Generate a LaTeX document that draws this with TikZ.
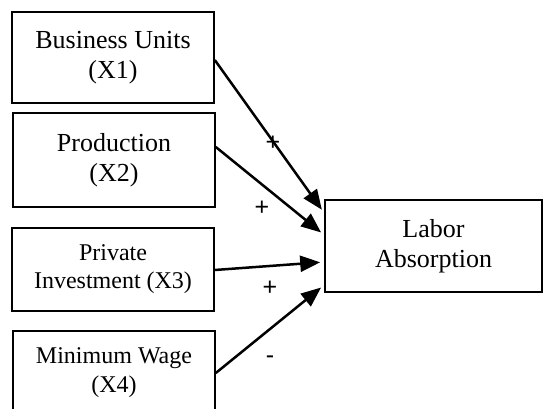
\documentclass[tikz,border=0pt]{standalone}
\usepackage{fontspec}
\setmainfont{Liberation Serif}
\newfontfamily\signfont{Liberation Sans}
\usepackage{tikz}
\usetikzlibrary{arrows.meta}
\usetikzlibrary{positioning}
\tikzstyle{factor} = [draw, line width=1.6pt, rectangle, align=center,
minimum width=202pt, inner sep=0pt, font=\fontsize{26}{30}\selectfont]
\tikzstyle{line} = [draw, line width=2.5pt, -{Triangle[length=20pt,width=16pt]}, shorten >=4pt]
\tikzstyle{sign} = [font=\signfont\fontsize{25}{25}\selectfont, inner sep=0pt]
\begin{document}
\begin{tikzpicture}[x=1pt,y=-1pt]
\clip (0,0) rectangle (543,409);
\useasboundingbox (0,0) rectangle (543,409);
\node [factor, minimum height=91pt] (X1) at (113,57.5) {Business Units\\(X1)};
\node [factor, minimum height=94pt] (X2) at (114,160) {Production\\(X2)};
\node [factor, minimum height=83pt, font=\fontsize{24}{28}\selectfont] (X3) at (113,269.5) {Private\\Investment (X3)};
\node [factor, minimum height=84pt, font=\fontsize{24}{29}\selectfont] (X4) at (114,373) {Minimum Wage\\(X4)};
\node [factor, minimum width=217pt, minimum height=92pt] (Y) at (433.5,246) {Labor\\Absorption};
%% Signs
\node [sign] (s1) at (273,143) {+};
\node [sign] (s2) at (262,208) {+};
\node [sign] (s3) at (270,288) {+};
\node [sign] (s4) at (270,360) {-};
%% Effects
\path [line] ([yshift=-2.5pt]X1.east) to ([yshift=33pt]Y.west);
\path [line] ([yshift=13pt]X2.east) to ([yshift=11pt]Y.west);
\path [line] ([yshift=-0.5pt]X3.east) to ([yshift=-16pt]Y.west);
\path [line] (X4.east) to ([yshift=-39pt]Y.west);
\end{tikzpicture}
\end{document}
